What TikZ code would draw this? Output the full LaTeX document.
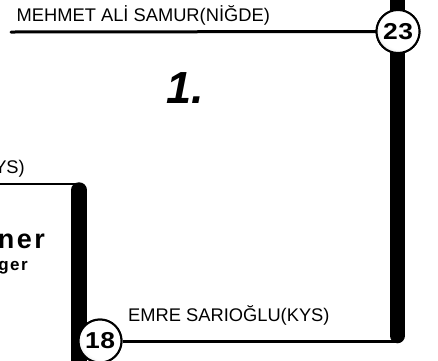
\documentclass[tikz,border=0pt]{standalone}
\usepackage{fontspec}
\setmainfont{Liberation Sans}
\pgfdeclareradialshading{knob}{\pgfpoint{9bp}{9bp}}{color(0bp)=(white); color(26bp)=(white); color(40bp)=(black!25); color(52bp)=(black!60)}
\tikzset{
  barline/.style={line width=15.5pt, line cap=round},
  thinline/.style={line width=3pt, line cap=round},
  numcirc/.style={circle, draw=black, line width=2pt, shading=knob, minimum size=43pt, inner sep=0pt,
    font=\fontsize{23}{23}\selectfont\bfseries},
  nametext/.style={inner sep=0pt, font=\fontsize{18.3}{18}\selectfont},
}
\begin{document}
\begin{tikzpicture}[x=1pt,y=-1pt]
\useasboundingbox (0,0) rectangle (438,360);
% coordinates
\coordinate (rtop) at (397.5,-12);
\coordinate (rbot) at (397.5,335.5);
\coordinate (ltop) at (79,190);
\coordinate (lbot) at (79,380);
\coordinate (tlft) at (11,32);
\coordinate (llft) at (-5,184);
\coordinate (lcor) at (79,184);
\coordinate (bcor) at (397,341);
% bars
\draw[barline] (rtop) -- (rbot);
\draw[barline] (ltop) -- (lbot);
% circles
\node[numcirc] (c23) at (398,31.5) {\scalebox{1.15}[1]{2\kern0.5pt 3}};
\node[numcirc] (c18) at (100,341) {\scalebox{1.15}[1]{1\kern0.5pt 8}};
% thin lines
\draw[thinline] (tlft) -- (c23.west);
\draw[line width=2.6pt] (llft) -- (lcor);
\draw[line width=3pt] (c18.east) -- (bcor);
% redraw circles on top
\node[numcirc] at (c23) {\scalebox{1.15}[1]{2\kern0.5pt 3}};
\node[numcirc] at (c18) {\scalebox{1.15}[1]{1\kern0.5pt 8}};
% texts
\node[nametext, anchor=base west] (t1) at (16.5,21.5) {MEHMET ALİ SAMUR(NİĞDE)};
\node[nametext, anchor=base west] (t2) at (128,321) {EMRE SARIOĞLU(KYS)};
\node[nametext, anchor=base east] (t3) at (25,173) {YS)};
\node[inner sep=0pt, anchor=base west, font=\fontsize{45}{45}\selectfont\bfseries\itshape] (t4) at (166,103) {1.};
\node[inner sep=0pt, anchor=base east, font=\fontsize{27}{27}\selectfont\bfseries] (t5) at (45,248) {n\kern2.5pt e\kern2.5pt r};
\node[inner sep=0pt, anchor=base east, font=\fontsize{17}{17}\selectfont\bfseries] (t6) at (28,270) {g\kern1.5pt e\kern1.5pt r};
\end{tikzpicture}
\end{document}
